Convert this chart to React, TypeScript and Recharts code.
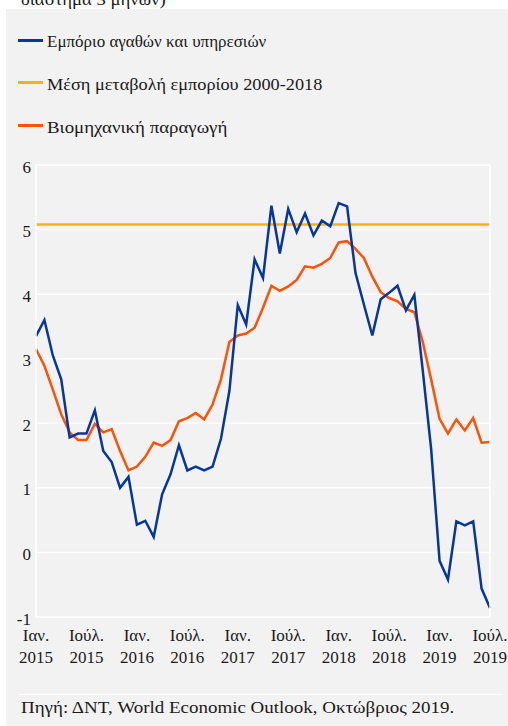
import React from 'react';
import { LineChart, Line, XAxis, YAxis, CartesianGrid, ReferenceLine } from 'recharts';

const tradeGoodsServices = [
  3.35, 3.6, 3.05, 2.68, 1.78, 1.84, 1.84, 2.2, 1.57, 1.4, 1.0, 1.17,
  0.43, 0.49, 0.24, 0.9, 1.21, 1.66, 1.27, 1.33, 1.27, 1.33, 1.76, 2.5,
  3.83, 3.53, 4.54, 4.25, 5.37, 4.63, 5.32, 4.96, 5.25, 4.91, 5.14, 5.05,
  5.41, 5.36, 4.33, 3.84, 3.36, 3.92, 4.02, 4.13, 3.75, 3.99, 2.82, 1.6,
  -0.13, -0.42, 0.48, 0.42, 0.48, -0.56, -0.86,
];

const industrialProduction = [
  3.15, 2.89, 2.52, 2.14, 1.86, 1.74, 1.74, 1.99, 1.86, 1.91, 1.57, 1.27,
  1.33, 1.48, 1.7, 1.65, 1.74, 2.03, 2.08, 2.16, 2.06, 2.29, 2.68, 3.26,
  3.36, 3.39, 3.48, 3.79, 4.13, 4.05, 4.12, 4.22, 4.43, 4.41, 4.47, 4.56,
  4.8, 4.82, 4.7, 4.56, 4.27, 4.03, 3.94, 3.89, 3.77, 3.72, 3.26, 2.68,
  2.07, 1.84, 2.06, 1.89, 2.08, 1.7, 1.71,
];

const avgTrade2000to2018 = 5.08;

const xTickIndex = [0, 6, 12, 18, 24, 30, 36, 42, 48, 54];
const xTickMonth = ['Ιαν.', 'Ιούλ.', 'Ιαν.', 'Ιούλ.', 'Ιαν.', 'Ιούλ.', 'Ιαν.', 'Ιούλ.', 'Ιαν.', 'Ιούλ.'];
const xTickYear = ['2015', '2015', '2016', '2016', '2017', '2017', '2018', '2018', '2019', '2019'];
const yTicks = [-1, 0, 1, 2, 3, 4, 5, 6];

const legendLabels = [
  'Εμπόριο αγαθών και υπηρεσιών',
  'Μέση μεταβολή εμπορίου 2000-2018',
  'Βιομηχανική παραγωγή',
];

const titleTail = 'διάστημα 3 μηνών)';
const sourceText = 'Πηγή: ΔΝΤ, World Economic Outlook, Οκτώβριος 2019.';

const BLUE = '#0636a0';
const YELLOW = '#ffb300';
const ORANGE = '#ff5204';
const TEXT = '#1a1a1a';
const FONT = 'Liberation Serif';
const legendColors = [BLUE, YELLOW, ORANGE];
const legendStretch = [1.0, 1.075, 1.11];

const data = tradeGoodsServices.map((v, i) => ({
  idx: i,
  trade: v,
  ip: industrialProduction[i],
}));

const XTick = (props: any) => {
  const { x, y, payload } = props;
  const k = xTickIndex.indexOf(payload.value);
  return (
    <text x={x} y={y} textAnchor="middle" fill={TEXT} fontFamily={FONT} fontSize={17}>
      <tspan x={x} dy={24}>{xTickMonth[k]}</tspan>
      <tspan x={x} dy={22}>{xTickYear[k]}</tspan>
    </text>
  );
};

const LeftTick = (props: any) => {
  const { x, y, payload } = props;
  return (
    <text x={x} y={y + 7.5} textAnchor="end" fill={TEXT} fontFamily={FONT} fontSize={17}>
      {payload.value}
    </text>
  );
};

const RightTick = (props: any) => {
  const { x, y, payload } = props;
  return (
    <text x={x} y={y + 7.5} textAnchor="start" fill={TEXT} fontFamily={FONT} fontSize={17}>
      {payload.value}
    </text>
  );
};

const textStyle = (left: number, top: number, sx: number): React.CSSProperties => ({
  position: 'absolute',
  left,
  top,
  fontSize: 17,
  lineHeight: '20px',
  whiteSpace: 'nowrap',
  fontFamily: FONT,
  color: TEXT,
  transform: `scaleX(${sx})`,
  transformOrigin: '0 0',
});

export default function App() {
  return (
    <div
      style={{
        position: 'absolute',
        left: 0,
        top: 0,
        width: 508,
        height: 726,
        overflow: 'hidden',
        background: '#ffffff',
        fontFamily: FONT,
        color: TEXT,
      }}
    >
      <div style={textStyle(21, -9.75, 1.1)}>{titleTail}</div>
      <div
        style={{
          position: 'absolute',
          left: 6,
          top: 9,
          width: 502,
          height: 717,
          background: '#f2f2f2',
        }}
      />
      {legendLabels.map((label, i) => (
        <React.Fragment key={label}>
          <div
            style={{
              position: 'absolute',
              left: 18,
              top: 38.5 + 42.67 * i,
              width: 25,
              height: 3,
              background: legendColors[i],
            }}
          />
          <div style={textStyle(47, 32.25 + 42.67 * i, legendStretch[i])}>{label}</div>
        </React.Fragment>
      ))}
      <div
        style={{
          position: 'absolute',
          left: 18,
          top: 693.5,
          width: 485,
          height: 1.5,
          background: '#ffffff',
        }}
      />
      <div style={textStyle(21, 698.25, 1.115)}>{sourceText}</div>
      <div style={{ position: 'absolute', left: 0, top: 0 }}>
        <LineChart
          width={508}
          height={690}
          data={data}
          margin={{ top: 165, right: 0, bottom: 13, left: 0 }}
        >
          <CartesianGrid
            yAxisId="left"
            vertical={false}
            stroke="#ffffff"
            strokeWidth={1.5}
            horizontalValues={yTicks}
          />
          <XAxis
            dataKey="idx"
            type="number"
            domain={[0, 54]}
            ticks={xTickIndex}
            interval={0}
            tick={<XTick />}
            tickLine={false}
            axisLine={false}
            tickSize={0}
            tickMargin={0}
            height={60}
          />
          <YAxis
            yAxisId="left"
            orientation="left"
            width={36}
            domain={[-1, 6]}
            ticks={yTicks}
            interval={0}
            tick={<LeftTick />}
            tickLine={false}
            tickSize={0}
            tickMargin={5}
            axisLine={{ stroke: '#ffffff', strokeWidth: 1.5 }}
          />
          <YAxis
            yAxisId="right"
            orientation="right"
            width={18}
            domain={[-1, 6]}
            ticks={yTicks}
            interval={0}
            tick={<RightTick />}
            tickLine={false}
            tickSize={0}
            tickMargin={6}
            axisLine={{ stroke: '#ffffff', strokeWidth: 1.5 }}
          />
          <ReferenceLine
            yAxisId="left"
            y={avgTrade2000to2018}
            stroke={YELLOW}
            strokeWidth={2.5}
          />
          <Line
            yAxisId="left"
            dataKey="ip"
            stroke={ORANGE}
            strokeWidth={2.5}
            dot={false}
            activeDot={false}
            isAnimationActive={false}
          />
          <Line
            yAxisId="left"
            dataKey="trade"
            stroke={BLUE}
            strokeWidth={2.5}
            dot={false}
            activeDot={false}
            isAnimationActive={false}
          />
        </LineChart>
      </div>
    </div>
  );
}
